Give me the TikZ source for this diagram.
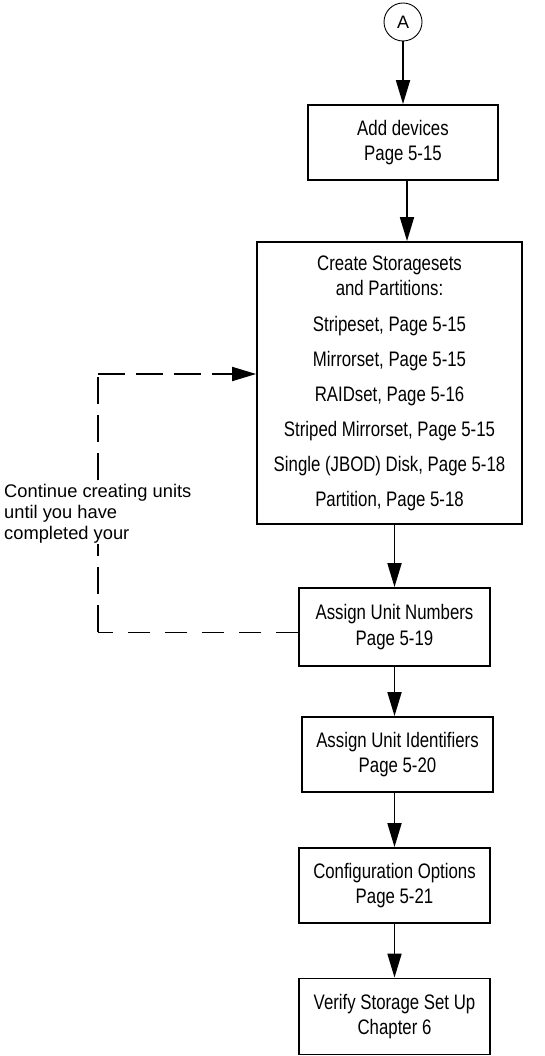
\documentclass[tikz,border=0pt]{standalone}
\usepackage{fontspec}
\setmainfont{Liberation Sans}
\newfontfamily\narrowfont[FakeStretch=0.8]{Liberation Sans}
\usetikzlibrary{arrows.meta}

\tikzset{
	stepbox/.style={rectangle,draw,line width=1.8pt,inner sep=0pt,align=center,
		font=\narrowfont\fontsize{21}{25.5}\selectfont},
	flow/.style={line width=1.8pt,-{Triangle[length=24pt,width=14pt]}},
	backflow/.style={line width=1.8pt,dash pattern=on 27pt off 11pt},
}

\begin{document}
\begin{tikzpicture}[x=1pt,y=-1pt]
		\useasboundingbox (0,0) rectangle (544,1056);
%		\draw[help lines,step=50] (0,0) grid (544,1056);
		\path (98,374) coordinate (back_top);
		\path (98,632) coordinate (back_low);

		\path (403,22) node(A) [circle,draw,line width=0.9pt,minimum size=38pt,inner sep=0pt,font=\fontsize{18}{20}\selectfont] {A};
		\path (403,142.5) node(devices) [stepbox,minimum width=190pt,minimum height=75pt] {Add devices\\Page 5-15};
		\path (389.5,383) node(storage) [stepbox,minimum width=265pt,minimum height=282pt]
			{Create Storagesets\\and Partitions:\\[10pt]
			 Stripeset, Page 5-15\\[9.5pt]
			 Mirrorset, Page 5-15\\[9.5pt]
			 RAIDset, Page 5-16\\[9.5pt]
			 Striped Mirrorset, Page 5-15\\[9.5pt]
			 Single (JBOD) Disk, Page 5-18\\[9.5pt]
			 Partition, Page 5-18};
		\path (394.5,627) node(units) [stepbox,minimum width=191pt,minimum height=78pt] {Assign Unit Numbers\\Page 5-19};
		\path (397.5,754.5) node(ident) [stepbox,minimum width=191pt,minimum height=75pt] {Assign Unit Identifiers\\Page 5-20};
		\path (394.5,885.5) node(config) [stepbox,minimum width=191pt,minimum height=75pt] {Configuration Options\\Page 5-21};
		\path (394.5,1016.5) node(verify) [stepbox,minimum width=191pt,minimum height=76pt] {Verify Storage Set Up\\Chapter 6};

		\draw[flow] (A) -- (devices);
		\draw[flow] ([xshift=4pt]devices.south) -- ([xshift=4pt]devices.south |- storage.north);
		\draw[flow] (units.north |- storage.south) -- (units.north);
		\draw[flow] (units.south) -- (units.south |- ident.north);
		\draw[flow] (config.north |- ident.south) -- (config.north);
		\draw[flow] (config.south) -- (verify.north);

		\draw[line width=1pt,dash pattern=on 22pt off 15pt] (units.west |- back_low) -- (back_low);
		\draw[backflow] (back_low) -- (back_top);
		\draw[backflow,-{Triangle[length=24pt,width=14pt]}] (back_top) -- (back_top -| storage.west);

		\path (3,539) node(note) [anchor=base west,align=left,inner sep=1pt,fill=white,
			font=\fontsize{18.3}{21}\selectfont] {Continue creating units\\until you have\\completed your};
	\end{tikzpicture}
\end{document}
